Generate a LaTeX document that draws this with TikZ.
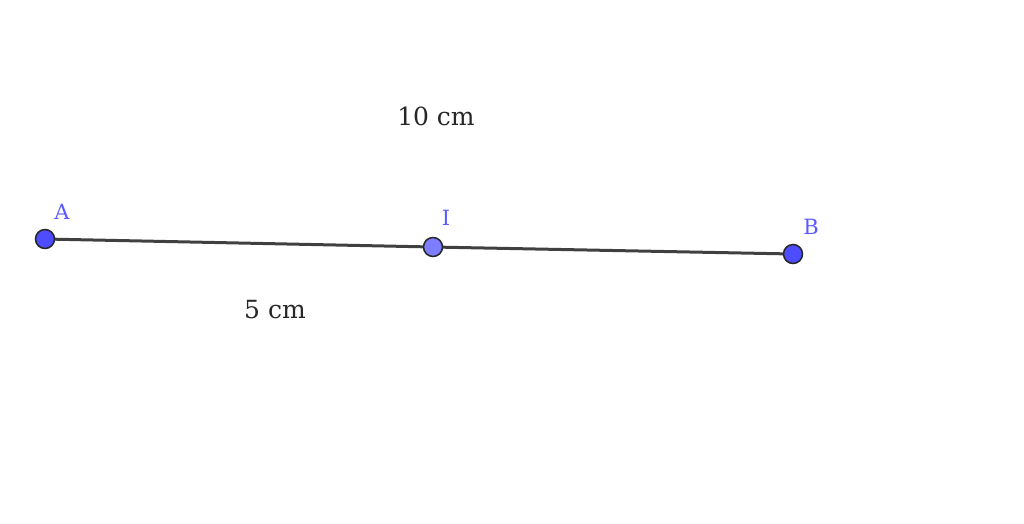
\documentclass[tikz,border=0pt]{standalone}
\usepackage{fontspec}
\setmainfont{DejaVu Serif}
\definecolor{ptblue}{RGB}{77,77,255}
\definecolor{ptlight}{RGB}{125,125,255}
\definecolor{lblblue}{RGB}{90,90,255}
\definecolor{segcol}{RGB}{64,64,64}
\begin{document}
\begin{tikzpicture}[x=1pt,y=-1pt,
  pt/.style={circle,draw=black!85,line width=1.5pt,inner sep=0pt,minimum size=19pt},
  lbl/.style={text=lblblue,font=\fontsize{21}{25}\selectfont,inner sep=0pt},
  meas/.style={text=black!85,font=\fontsize{25}{30}\selectfont,inner sep=0pt}]
\useasboundingbox (0,0) rectangle (1024,523);
\coordinate (A) at (45,239);
\coordinate (I) at (433,247);
\coordinate (B) at (793,254);
\draw[segcol,line width=3pt] (A) -- (I) -- (B);
\node[pt,fill=ptblue] (pA) at (A) {};
\node[pt,fill=ptlight] (pI) at (I) {};
\node[pt,fill=ptblue] (pB) at (B) {};
\node[lbl] (lA) at (62,212) {A};
\node[lbl] (lI) at (446,218) {I};
\node[lbl] (lB) at (811,227) {B};
\node[meas] (m10) at (436,116) {10 cm};
\node[meas] (m5) at (275,310) {5 cm};
\end{tikzpicture}
\end{document}
